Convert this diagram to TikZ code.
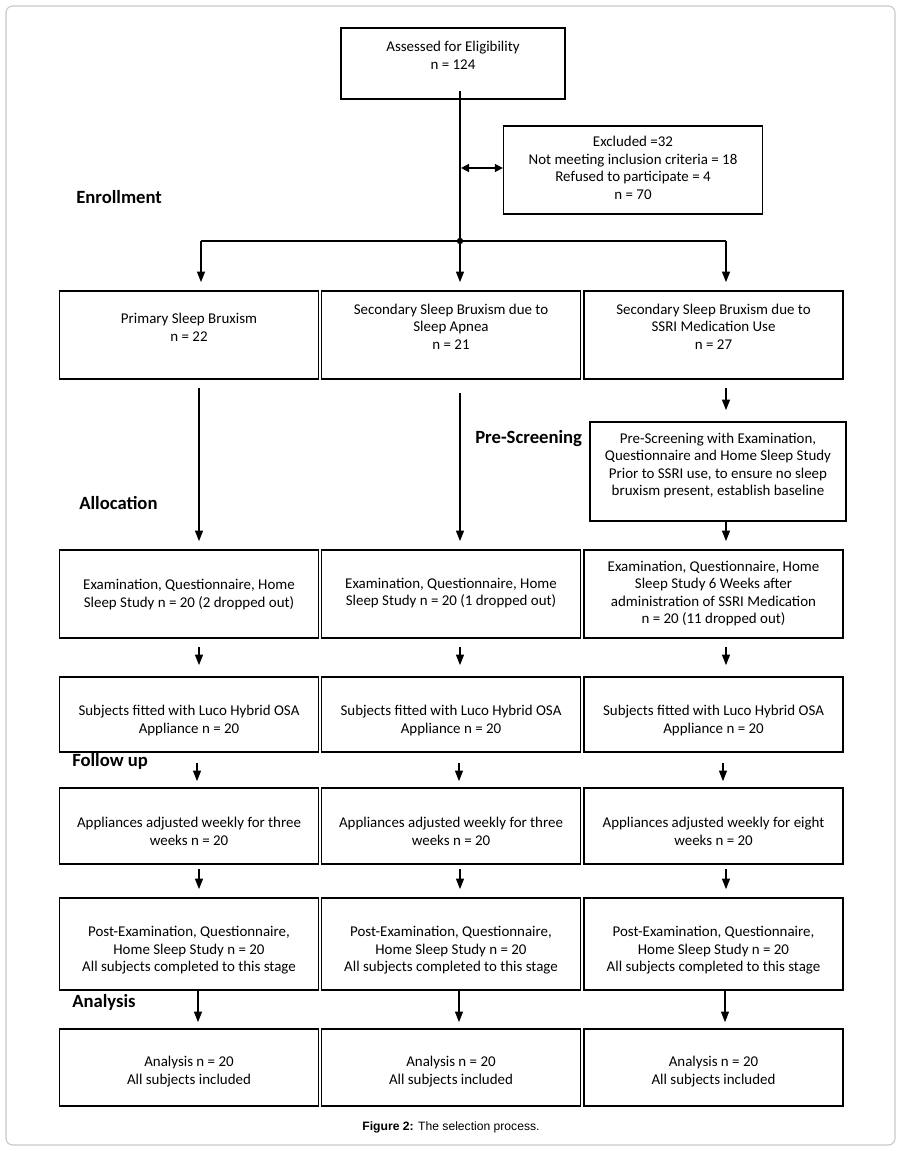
\documentclass[tikz,border=0pt]{standalone}
\usepackage{fontspec}
\setmainfont{Carlito}
\newfontfamily\capfont{Liberation Sans}
\usetikzlibrary{arrows.meta,calc}
\begin{document}
\begin{tikzpicture}[x=0.75pt,y=-0.75pt,
  box/.style={draw=black,line width=1.2pt,minimum width=194pt,minimum height=#1,inner sep=0pt},
  txt/.style={align=center,font=\fontsize{11.2}{13.1}\selectfont,inner sep=0pt},
  stage/.style={anchor=west,font=\fontsize{14}{15}\selectfont\bfseries,inner sep=0pt},
  arr/.style={line width=1.1pt,-{Triangle[length=8pt,width=6pt]}},
  ln/.style={line width=0.9pt}]
\useasboundingbox (0,0) rectangle (900,1151);
\draw[draw=black!22,line width=0.8pt,rounded corners=5pt] (6,6) rectangle (895,1145);

% top
\node[box=53.25pt,minimum width=168pt] (top) at (453,63.5) {};
\node[txt] (toptxt) at (453,55.5) {Assessed for Eligibility\\n = 124};
\node[box=66pt] (excl) at (633,170) {};
\node[txt] (excltxt) at (633,168) {Excluded =32\\Not meeting inclusion criteria = 18\\Refused to participate = 4\\n = 70};

% row 1
\node[box=66pt] (r1a) at (189,335) {};
\node[box=66pt] (r1b) at (451,335) {};
\node[box=66pt] (r1c) at (713.5,335) {};
\node[txt] at (189,327.5) {Primary Sleep Bruxism\\n = 22};
\node[txt] at (451,326.5) {Secondary Sleep Bruxism due to\\Sleep Apnea\\n = 21};
\node[txt] at (713.5,326.5) {Secondary Sleep Bruxism due to\\SSRI Medication Use\\n = 27};

% pre-screening
\node[box=74.25pt,minimum width=192pt] (pre) at (718,471.5) {};
\node[txt] at (718,465.5) {Pre-Screening with Examination,\\Questionnaire and Home Sleep Study\\Prior to SSRI use, to ensure no sleep\\bruxism present, establish baseline};

% row 2
\node[box=66pt] (r2a) at (189,594) {};
\node[box=66pt] (r2b) at (451,594) {};
\node[box=66pt] (r2c) at (713.5,594) {};
\node[txt] at (189,594.5) {Examination, Questionnaire, Home\\Sleep Study n = 20 (2 dropped out)};
\node[txt] at (451,593) {Examination, Questionnaire, Home\\Sleep Study n = 20 (1 dropped out)};
\node[txt] at (713.5,593.5) {Examination, Questionnaire, Home\\Sleep Study 6 Weeks after\\administration of SSRI Medication\\n = 20 (11 dropped out)};

% row 3
\node[box=56.25pt] (r3a) at (189,714.5) {};
\node[box=56.25pt] (r3b) at (451,714.5) {};
\node[box=56.25pt] (r3c) at (713.5,714.5) {};
\node[txt] at (189,720.5) {Subjects fitted with Luco Hybrid OSA\\Appliance n = 20};
\node[txt] at (451,720.5) {Subjects fitted with Luco Hybrid OSA\\Appliance n = 20};
\node[txt] at (713.5,720.5) {Subjects fitted with Luco Hybrid OSA\\Appliance n = 20};

% row 4
\node[box=57pt] (r4a) at (189,826) {};
\node[box=57pt] (r4b) at (451,826) {};
\node[box=57pt] (r4c) at (713.5,826) {};
\node[txt] at (189,831.5) {Appliances adjusted weekly for three\\weeks n = 20};
\node[txt] at (451,831.5) {Appliances adjusted weekly for three\\weeks n = 20};
\node[txt] at (713.5,831.5) {Appliances adjusted weekly for eight\\weeks n = 20};

% row 5
\node[box=69pt] (r5a) at (189,944) {};
\node[box=69pt] (r5b) at (451,944) {};
\node[box=69pt] (r5c) at (713.5,944) {};
\node[txt] at (189,950.5) {Post-Examination, Questionnaire,\\Home Sleep Study n = 20\\All subjects completed to this stage};
\node[txt] at (451,950.5) {Post-Examination, Questionnaire,\\Home Sleep Study n = 20\\All subjects completed to this stage};
\node[txt] at (713.5,950.5) {Post-Examination, Questionnaire,\\Home Sleep Study n = 20\\All subjects completed to this stage};

% row 6
\node[box=57.75pt] (r6a) at (189,1067.5) {};
\node[box=57.75pt] (r6b) at (451,1067.5) {};
\node[box=57.75pt] (r6c) at (713.5,1067.5) {};
\node[txt] at (189,1071.5) {Analysis n = 20\\All subjects included};
\node[txt] at (451,1071.5) {Analysis n = 20\\All subjects included};
\node[txt] at (713.5,1071.5) {Analysis n = 20\\All subjects included};

% stage labels
\node[stage] (lenr) at (76,197) {Enrollment};
\node[stage] (lpre) at (475,439) {Pre-Screening};
\node[stage] (lall) at (79,503) {Allocation};
\node[stage] (lfol) at (72,761) {Follow up};
\node[stage] (lana) at (72,1002) {Analysis};

% caption
\node[font=\capfont\fontsize{9.1}{10}\selectfont,inner sep=0pt] (cap) at (451,1127) {\textbf{Figure 2:} The selection process.};

% connectors
\coordinate (j) at (460,241);
\coordinate (jl) at (201,241);
\coordinate (jr) at (726,241);
\draw[ln] ($(top.south)+(7,-9)$) -- (j);
\draw[ln] (jl) -- (jr);
\fill (j) circle (3.2);
\draw[line width=1.1pt,{Triangle[length=6pt,width=6pt]}-{Triangle[length=6pt,width=6pt]}] (461,168) -- (excl.west |- 0,168);
\draw[arr] (jl) -- ($(r1a.north)+(12,-8)$);
\draw[arr] (j) -- ($(r1b.north)+(9,-8)$);
\draw[arr] (jr) -- ($(r1c.north)+(12.5,-8)$);

\draw[arr] ($(r1a.south)+(10,8)$) -- ($(r2a.north)+(10,-8)$);
\draw[arr] ($(r1b.south)+(9,13)$) -- ($(r2b.north)+(9,-8)$);
\draw[arr] ($(r1c.south)+(12.5,8)$) -- ($(pre.north)+(8,-11)$);
\draw[arr] ($(pre.south)+(8,0)$) -- ($(r2c.north)+(12.5,-8)$);

\draw[arr] ($(r2a.south)+(10,8)$) -- ($(r3a.north)+(10,-11)$);
\draw[arr] ($(r2b.south)+(9,8)$) -- ($(r3b.north)+(9,-11)$);
\draw[arr] ($(r2c.south)+(12.5,8)$) -- ($(r3c.north)+(12.5,-11)$);

\draw[arr] ($(r3a.south)+(8,10)$) -- ($(r4a.north)+(8,-6)$);
\draw[arr] ($(r3b.south)+(8,10)$) -- ($(r4b.north)+(8,-6)$);
\draw[arr] ($(r3c.south)+(9.5,10)$) -- ($(r4c.north)+(9.5,-6)$);

\draw[arr] ($(r4a.south)+(10,4)$) -- ($(r5a.north)+(10,-8)$);
\draw[arr] ($(r4b.south)+(9,4)$) -- ($(r5b.north)+(9,-8)$);
\draw[arr] ($(r4c.south)+(12.5,4)$) -- ($(r5c.north)+(12.5,-8)$);

\draw[arr] (r5a.south -| 198,0) -- ($(r6a.north)+(9,-6)$);
\draw[arr] (r5b.south -| 459,0) -- ($(r6b.north)+(8,-6)$);
\draw[arr] (r5c.south -| 725,0) -- ($(r6c.north)+(11.5,-6)$);
\end{tikzpicture}
\end{document}
